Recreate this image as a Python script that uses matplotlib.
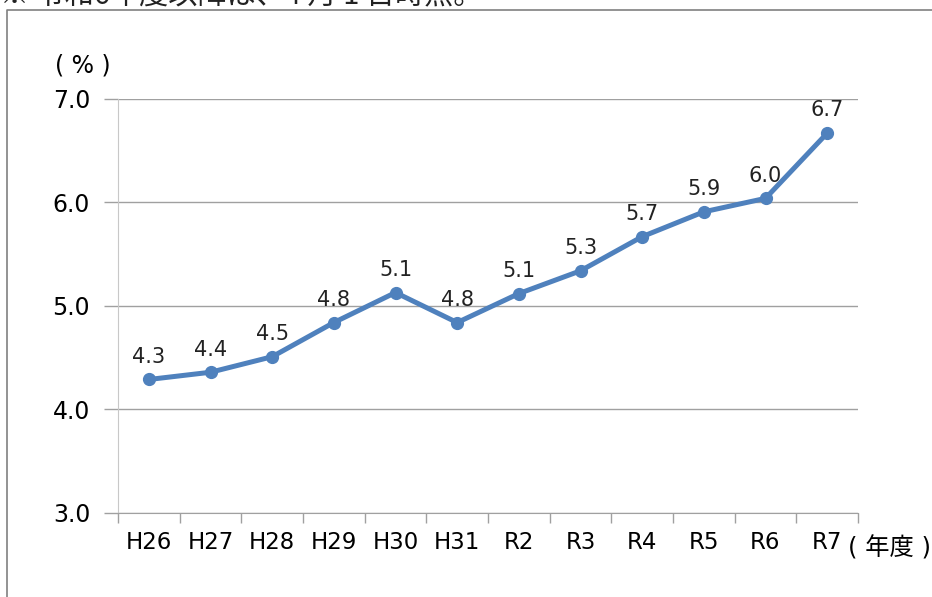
import matplotlib.pyplot as plt
from matplotlib.lines import Line2D

plt.rcParams['font.family'] = ['DejaVu Sans', 'Noto Sans CJK JP']

# データ
years = ["H26", "H27", "H28", "H29", "H30", "H31", "R2", "R3", "R4", "R5", "R6", "R7"]
rates = [4.29, 4.36, 4.51, 4.84, 5.13, 4.84, 5.12, 5.34, 5.67, 5.91, 6.04, 6.67]
labels = ["4.3", "4.4", "4.5", "4.8", "5.1", "4.8", "5.1", "5.3", "5.7", "5.9", "6.0", "6.7"]
y_ticks = [3.0, 4.0, 5.0, 6.0, 7.0]

W, H = 932, 597
fig = plt.figure(figsize=(W / 100, H / 100), dpi=100)

# 外枠（左と上のみ見える）
fig.add_artist(Line2D([7 / W, 7 / W, 1], [0, 1 - 10 / H, 1 - 10 / H],
                      transform=fig.transFigure, color="#808080", lw=1.2))

# 上部の切れたテキスト（元画像でも上半分が切れている）
fig.text(0.0, 1 + 4 / H, "※ 令和6年度以降は、4 月 1 日時点。", fontsize=21,
         family=['Noto Sans CJK JP', 'DejaVu Sans'],
         va="center", ha="left", color="#222222")

ax = fig.add_axes([118 / W, (H - 513) / H, 740 / W, 414 / H])

x = list(range(len(years)))
ax.plot(x, rates, color="#4F81BD", lw=3.6, marker="o", markersize=8.5,
        solid_capstyle="round", zorder=3)

for xi, yi, lab in zip(x, rates, labels):
    ax.annotate(lab, (xi, yi), xytext=(0, 12), textcoords="offset points",
                ha="center", va="baseline", fontsize=15, color="#222222")

ax.set_xlim(-0.5, len(years) - 0.5)
ax.set_ylim(3.0, 7.0)
ax.set_yticks(y_ticks)
ax.set_yticklabels([f"{v:.1f}" for v in y_ticks], fontsize=17)
ax.yaxis.grid(True, color="#A0A0A0", lw=1.0)
ax.set_axisbelow(True)

ax.set_xticks(x)
ax.set_xticklabels(years, fontsize=16.5)
ax.set_xticks([i - 0.5 for i in range(len(years) + 1)], minor=True)
ax.tick_params(axis="x", which="major", length=0, pad=13)
ax.tick_params(axis="x", which="minor", length=7, color="#A0A0A0", width=1.0)
ax.tick_params(axis="y", length=10, color="#A0A0A0", width=1.0, pad=10)

for s in ["top", "right"]:
    ax.spines[s].set_visible(False)
ax.spines["left"].set_color("#C8C8C8")
ax.spines["bottom"].set_color("#A0A0A0")

fig.text(83 / W, 1 - 66 / H, "( % )", fontsize=17, ha="center", va="center")
fig.text(889 / W, 1 - 548 / H, "( 年度 )", fontsize=17.5, ha="center", va="center")

fig.savefig("out.png", dpi=100)
